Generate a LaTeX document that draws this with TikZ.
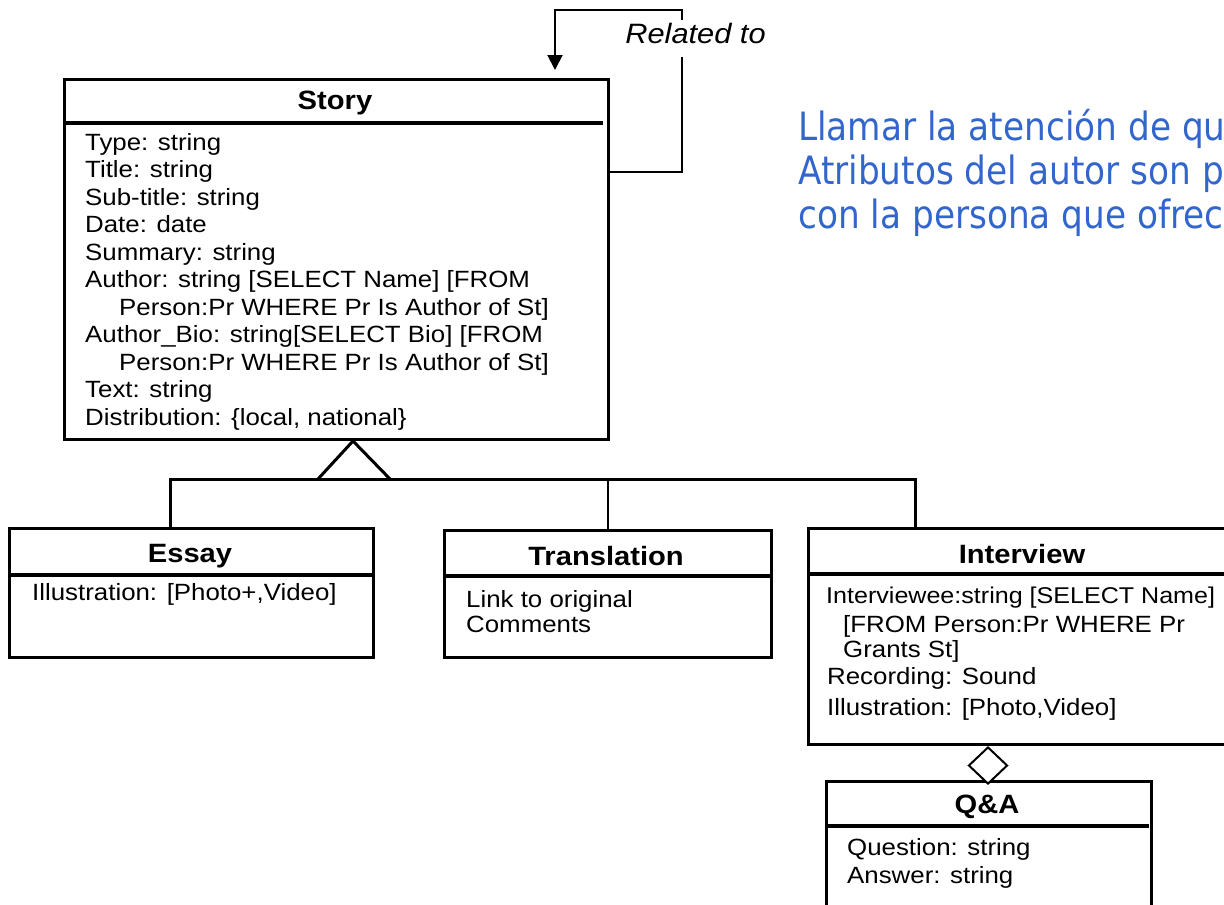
\documentclass[tikz,border=0pt]{standalone}
\usepackage{fontspec}
\usetikzlibrary{shapes.geometric,arrows.meta,calc}
\newfontfamily\umlfont{Liberation Sans}[FakeStretch=1.1]
\newfontfamily\notefont{DejaVu Sans}[FakeStretch=0.88]
\definecolor{noteblue}{RGB}{51,102,204}
\begin{document}
\begin{tikzpicture}[x=1pt,y=-1pt,
  umlbox/.style={draw, line width=3pt, rectangle, inner sep=0pt, anchor=north west},
  sepline/.style={line width=3.5pt},
  attr/.style={anchor=base west, inner sep=0pt, font=\umlfont\fontsize{23.5}{27.5}\selectfont},
  ttl/.style={anchor=base, inner sep=0pt, font=\umlfont\bfseries\fontsize{26.5}{30}\selectfont},
  gen/.style={line width=3pt},
  thinline/.style={line width=1.5pt},
  assoc/.style={line width=2pt},
  relbox/.style={fill=white, inner xsep=2pt, inner ysep=0pt, minimum height=37pt, text depth=10pt, font=\umlfont\itshape\fontsize{28}{32}\selectfont},
  agg/.style={draw, diamond, line width=2pt, fill=white, inner sep=0pt, minimum width=39pt, minimum height=37pt, anchor=north},
  note/.style={anchor=base west, inner sep=0pt, text=noteblue, font=\notefont\fontsize{39}{44}\selectfont}]
\useasboundingbox (0,0) rectangle (1224,905);

% boxes
\node[umlbox, minimum width=544pt, minimum height=360pt] (story) at (63,78) {};
\node[umlbox, minimum width=364pt, minimum height=129pt] (essay) at (8,527) {};
\node[umlbox, minimum width=327pt, minimum height=127pt] (trans) at (443,529) {};
\node[umlbox, minimum width=440pt, minimum height=216pt] (inter) at (807,527) {};
\node[umlbox, minimum width=325pt, minimum height=150pt] (qa) at (825,780) {};

% separators
\draw[sepline] ($(story.north west)+(0,45)$) -- ($(story.north east)+(-7,45)$);
\draw[sepline] ($(essay.north west)+(0,48)$) -- ($(essay.north east)+(0,48)$);
\draw[sepline] ($(trans.north west)+(0,47)$) -- ($(trans.north east)+(0,47)$);
\draw[sepline] ($(inter.north west)+(0,47)$) -- ($(inter.north east)+(0,47)$);
\draw[sepline] ($(qa.north west)+(0,46)$) -- ($(qa.north east)+(-4,46)$);

% titles
\node[ttl] (storyT) at (335,109) {Story};
\node[ttl] (essayT) at (190,562) {Essay};
\node[ttl] (transT) at (606,565) {Translation};
\node[ttl] (interT) at (1022,563) {Interview};
\node[ttl] (qaT) at (987,813) {Q\&A};

% Story attributes
\node[attr] (s1) at (85,150) {Type: string};
\node[attr] (s2) at (85,177.5) {Title: string};
\node[attr] (s3) at (85,205) {Sub-title: string};
\node[attr] (s4) at (85,232.5) {Date: date};
\node[attr] (s5) at (85,260) {Summary: string};
\node[attr] (s6) at (85,287.5) {Author: string [SELECT Name] [FROM};
\node[attr] (s7) at (119,315) {Person:Pr WHERE Pr Is Author of St]};
\node[attr] (s8) at (85,342.5) {Author\_Bio: string[SELECT Bio] [FROM};
\node[attr] (s9) at (119,370) {Person:Pr WHERE Pr Is Author of St]};
\node[attr] (s10) at (85,397.5) {Text: string};
\node[attr] (s11) at (85,425) {Distribution: \{local, national\}};

% Essay
\node[attr] (e1) at (32,600) {Illustration: [Photo+,Video]};
% Translation
\node[attr] (t1) at (466,607) {Link to original};
\node[attr] (t2) at (466,632) {Comments};
% Interview
\node[attr, font=\umlfont\fontsize{22.8}{27.5}\selectfont] (i1) at (826,603) {Interviewee:string [SELECT Name]};
\node[attr] (i2) at (843,632) {[FROM Person:Pr WHERE Pr};
\node[attr] (i3) at (843,657) {Grants St]};
\node[attr] (i4) at (827,684) {Recording: Sound};
\node[attr] (i5) at (827,715) {Illustration: [Photo,Video]};
% Q&A
\node[attr] (q1) at (847,855) {Question: string};
\node[attr] (q2) at (847,883) {Answer: string};

% generalization
\coordinate (gtip) at ($(story.south west)+(290,0)$);
\coordinate (busl) at (170,479);
\coordinate (busr) at (915,479);
\draw[gen, line join=miter] (318,479) -- (gtip) -- (390,479);
\draw[gen] (busl |- essay.north) -- (busl) -- (busr) -- (busr |- inter.north);
\draw[thinline] (trans.north) -- (trans.north |- busl);

% aggregation
\coordinate (aggx) at (988,0);
\node[agg] (aggd) at (inter.south -| aggx) {};

% self association
\coordinate (a1) at (682,172);
\coordinate (a2) at (682,10);
\coordinate (a3) at (555,10);
\draw[assoc, -{Triangle[length=15pt,width=15pt]}] (story.east |- a1) -- (a1) -- (a2) -- (a3) -- ($(a3 |- story.north)+(0,-8)$);
\node[relbox] (rel) at (695.5,38.5) {Related to};

% note
\node[note] (n1) at (798,140) {Llamar la atención de qu};
\node[note] (n2) at (798,184) {Atributos del autor son p};
\node[note] (n3) at (798,228) {con la persona que ofrec};
\end{tikzpicture}
\end{document}
